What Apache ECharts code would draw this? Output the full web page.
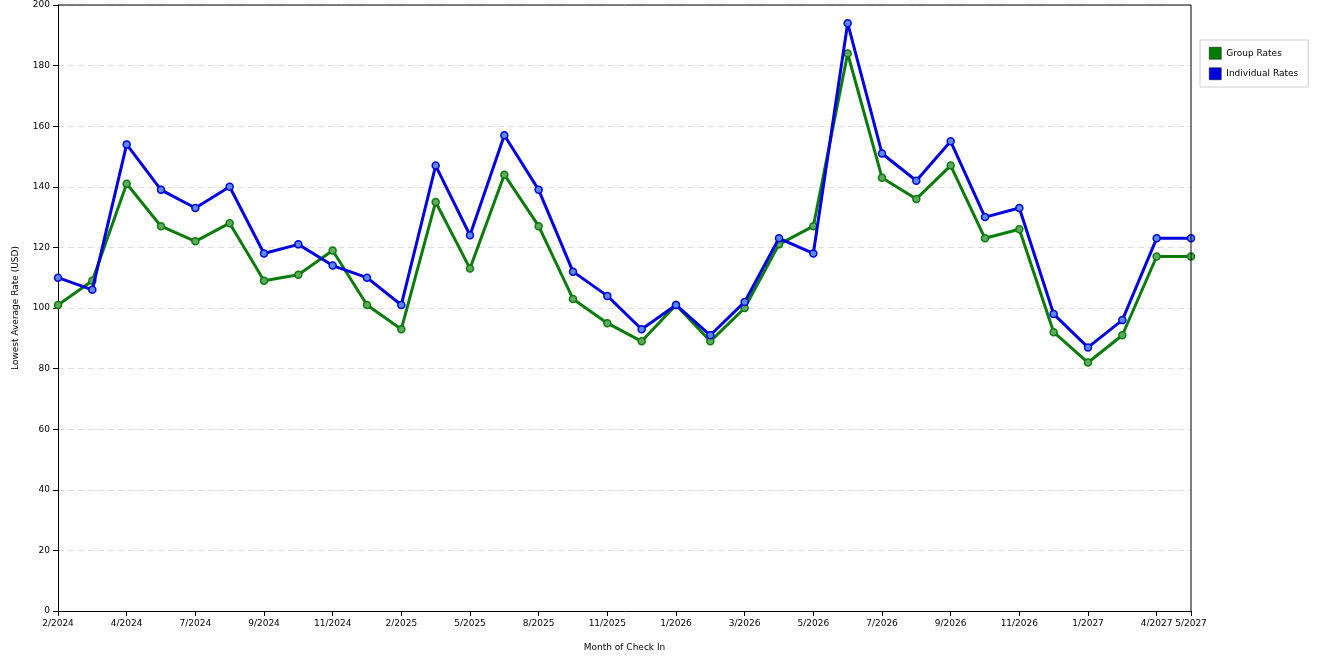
<!DOCTYPE html>
<html><head><meta charset="utf-8">
<script src="https://cdn.jsdelivr.net/npm/echarts@6/dist/echarts.min.js"></script>
<style>html,body{margin:0;padding:0;background:#fff}#c{width:1320px;height:660px}</style>
</head><body><div id="c"></div>
<script>
const categories=['2/2024','3/2024','4/2024','6/2024','7/2024','8/2024','9/2024','10/2024','11/2024','1/2025','2/2025','4/2025','5/2025','7/2025','8/2025','10/2025','11/2025','12/2025','1/2026','2/2026','3/2026','4/2026','5/2026','6/2026','7/2026','8/2026','9/2026','10/2026','11/2026','12/2026','1/2027','3/2027','4/2027','5/2027'];
const shownLabels=[0,2,4,6,8,10,12,14,16,18,20,22,24,26,28,30,32,33];
const groupRates=[101,109,141,127,122,128,109,111,119,101,93,135,113,144,127,103,95,89,101,89,100,121,127,184,143,136,147,123,126,92,82,91,117,117];
const individualRates=[110,106,154,139,133,140,118,121,114,110,101,147,124,157,139,112,104,93,101,91,102,123,118,194,151,142,155,130,133,98,87,96,123,123];
const font='"DejaVu Sans", sans-serif';
const chart=echarts.init(document.getElementById('c'));
function ser(name,data,color,light){return {name,type:'line',data,symbol:'circle',symbolSize:7,
 lineStyle:{color,width:3},itemStyle:{color:light,borderColor:color,borderWidth:1.5},z:name==='Group Rates'?2:3};}
chart.setOption({
 animation:false,
 grid:{left:58,right:129,top:5,bottom:49},
 legend:{orient:'vertical',left:1200,top:40,padding:[7,10,7,9],itemGap:8,itemWidth:12,itemHeight:12,
  borderColor:'#ccc',borderWidth:1,icon:'rect',textStyle:{fontSize:9,fontFamily:font,color:'#000'},
  data:[{name:'Group Rates',itemStyle:{color:'#007d00',borderColor:'#000',borderWidth:0.5}},{name:'Individual Rates',itemStyle:{color:'#0000e0',borderColor:'#000',borderWidth:0.5}}]},
 xAxis:{type:'category',data:categories,boundaryGap:false,name:'Month of Check In',nameLocation:'middle',nameGap:32,
  nameTextStyle:{fontSize:9,fontFamily:font,color:'#000'},
  axisLine:{lineStyle:{color:'#000'}},
  axisTick:{interval:(i)=>shownLabels.includes(i),lineStyle:{color:'#000'}},
  axisLabel:{interval:(i)=>shownLabels.includes(i),fontSize:9,fontFamily:font,color:'#000'},splitLine:{show:false}},
 yAxis:{type:'value',min:0,max:200,interval:20,name:'Lowest Average Rate (USD)',nameLocation:'middle',nameGap:38,
  nameTextStyle:{fontSize:9,fontFamily:font,color:'#000'},
  axisLine:{show:true,lineStyle:{color:'#000'}},axisTick:{show:true,lineStyle:{color:'#000'}},
  axisLabel:{fontSize:9,fontFamily:font,color:'#000'},
  splitLine:{lineStyle:{color:'#ddd',type:[6,4]}}},
 graphic:[{type:'line',shape:{x1:1191,y1:5,x2:1191,y2:611},style:{stroke:'#000',lineWidth:1},z:10},
          {type:'line',shape:{x1:58,y1:5,x2:1191,y2:5},style:{stroke:'#000',lineWidth:1},z:10}],
 series:[ser('Group Rates',groupRates,'#0a7a0a','#5fa95f'),ser('Individual Rates',individualRates,'#0000e0','#5a8ae8')]
});
</script></body></html>
